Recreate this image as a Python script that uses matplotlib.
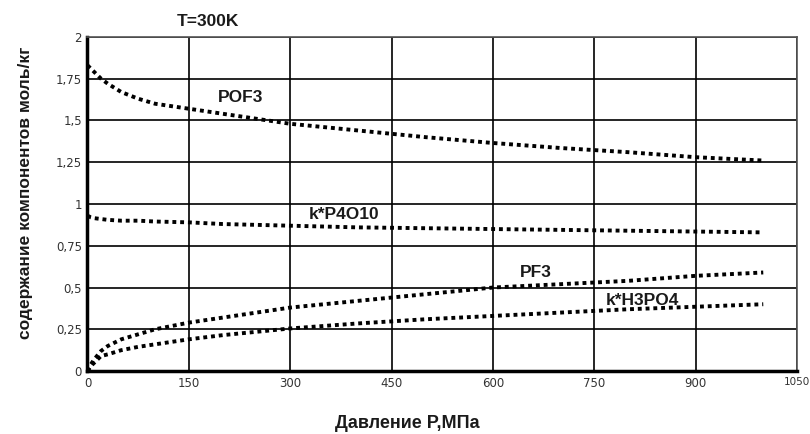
import matplotlib.pyplot as plt

# давление, МПа
pressure = [0, 5, 10, 20, 30, 50, 75, 100, 150, 200, 300, 400, 500, 600, 700, 800, 900, 1000]

pof3 = [1.83, 1.81, 1.79, 1.75, 1.72, 1.67, 1.63, 1.60, 1.57, 1.54, 1.48, 1.44, 1.40, 1.365, 1.335, 1.31, 1.28, 1.26]
p4o10 = [0.93, 0.92, 0.915, 0.91, 0.905, 0.90, 0.90, 0.895, 0.89, 0.88, 0.87, 0.86, 0.855, 0.85, 0.845, 0.84, 0.835, 0.83]
pf3 = [0.0, 0.04, 0.07, 0.12, 0.15, 0.19, 0.22, 0.25, 0.29, 0.32, 0.38, 0.42, 0.46, 0.50, 0.52, 0.54, 0.57, 0.59]
h3po4 = [0.0, 0.03, 0.05, 0.09, 0.10, 0.125, 0.145, 0.16, 0.19, 0.215, 0.255, 0.285, 0.31, 0.33, 0.35, 0.37, 0.385, 0.40]

xticks = [0, 150, 300, 450, 600, 750, 900, 1050]
yticks = [0, 0.25, 0.5, 0.75, 1, 1.25, 1.5, 1.75, 2]
ytick_labels = ['0', '0,25', '0,5', '0,75', '1', '1,25', '1,5', '1,75', '2']

fig = plt.figure(figsize=(8.1, 4.34), dpi=100)
ax = fig.add_axes([0.108, 0.145, 0.876, 0.77])

dots = dict(color='black', linewidth=2.8, linestyle=(0, (1, 1)), dash_capstyle='butt')
for series in (pof3, p4o10, pf3, h3po4):
    ax.plot(pressure, series, zorder=3, **dots)

ax.set_xlim(0, 1050)
ax.set_ylim(0, 2)
ax.set_xticks(xticks)
ax.set_yticks(yticks)
ax.set_yticklabels(ytick_labels)
ax.tick_params(length=0, labelsize=8.5, labelcolor='#333333', pad=4)
# last label sits at the very edge of the figure
ax.get_xticklabels()[-1].set_fontsize(7.5)
ax.grid(True, color='black', linewidth=1.2)

for side in ('top', 'right'):
    ax.spines[side].set_color('#555555')
    ax.spines[side].set_linewidth(1.2)
for side in ('left', 'bottom'):
    ax.spines[side].set_linewidth(2.5)

bold = dict(family='Liberation Sans', fontweight='bold', color='#1a1a1a')
lbl = dict(fontsize=12.5, ha='center', va='center', **bold)
ax.text(227, 1.635, 'POF3', **lbl)
ax.text(379, 0.94, 'k*P4O10', **lbl)
ax.text(663, 0.59, 'PF3', **lbl)
ax.text(821, 0.425, 'k*H3PO4', **lbl)

fig.text(208 / 810, 1 - 21 / 434, 'T=300K', fontsize=12.5, ha='center', va='center', **bold)
fig.text(407 / 810, 1 - 424 / 434, 'Давление P,МПа', fontsize=13, ha='center', va='center', **bold)
fig.text(26 / 810, 1 - 193 / 434, 'содержание компонентов моль/кг', fontsize=12.5,
         rotation=90, ha='center', va='center', **bold)

fig.savefig('out.png', dpi=100)
